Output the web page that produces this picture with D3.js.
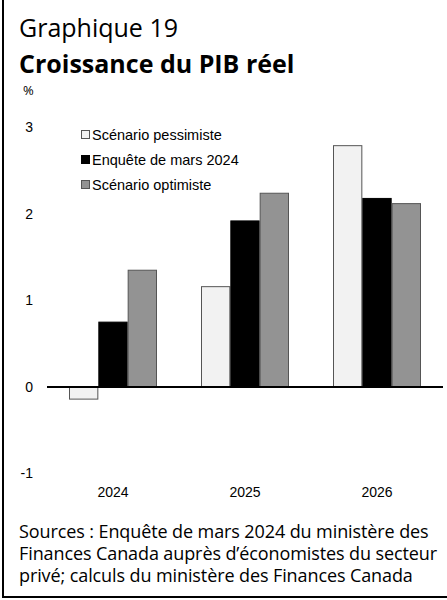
<!DOCTYPE html>
<html>
<head>
<meta charset="utf-8">
<script src="https://cdn.jsdelivr.net/npm/d3@7"></script>
<style>
  html, body { margin: 0; padding: 0; background: #fff; }
  svg { display: block; }
</style>
</head>
<body>
<script>
const years = ["2024", "2025", "2026"];
const seriesNames = ["Scénario pessimiste", "Enquête de mars 2024", "Scénario optimiste"];
const pessimiste = [-0.14, 1.16, 2.79];
const enquete = [0.75, 1.92, 2.18];
const optimiste = [1.35, 2.24, 2.12];
const yTicks = [-1, 0, 1, 2, 3];
const sourceLines = [
  "Sources : Enquête de mars 2024 du ministère des",
  "Finances Canada auprès d’économistes du secteur",
  "privé; calculs du ministère des Finances Canada"
];

const W = 447, H = 600;
const fills = ["#f2f2f2", "#000000", "#939393"];
const strokes = ["#555555", "#000000", "#555555"];
const values = [pessimiste, enquete, optimiste];

const svg = d3.select("body").append("svg").attr("width", W).attr("height", H);

// frame
svg.append("line").attr("x1", 3).attr("x2", 3).attr("y1", 0).attr("y2", 598)
  .attr("stroke", "#000").attr("stroke-width", 2);
svg.append("line").attr("x1", 2).attr("x2", W).attr("y1", 597).attr("y2", 597)
  .attr("stroke", "#000").attr("stroke-width", 2);

const titleFont = "'Open Sans', 'Noto Sans', sans-serif";
const arial = "'Liberation Sans', Arial, sans-serif";

svg.append("text").attr("x", 19).attr("y", 37).text("Graphique 19")
  .attr("font-family", titleFont).attr("font-size", 25).attr("fill", "#000");
svg.append("text").attr("x", 19).attr("y", 72.5).text("Croissance du PIB réel")
  .attr("font-family", titleFont).attr("font-weight", "bold").attr("font-size", 25).attr("fill", "#000");
svg.append("text").attr("x", 23).attr("y", 95).text("%")
  .attr("font-family", titleFont).attr("font-size", 13).attr("fill", "#000");

const x0 = d3.scaleBand().domain(years).range([47, 443]).paddingInner(1/3).paddingOuter(1/6);
const x1 = d3.scaleBand().domain(d3.range(3)).range([0, x0.bandwidth()]);
const y = d3.scaleLinear().domain([-1, 3]).range([473.5, 127.5]);

// y tick labels
svg.append("g").selectAll("text").data(yTicks).join("text")
  .attr("x", 33).attr("y", d => y(d)).attr("dy", "0.35em")
  .attr("text-anchor", "end")
  .attr("font-family", arial).attr("font-size", 14).attr("fill", "#000")
  .text(d => d);

// bars
const g = svg.append("g");
years.forEach((yr, i) => {
  values.forEach((vals, s) => {
    const v = vals[i];
    g.append("rect")
      .attr("x", x0(yr) + x1(s) + 0.5)
      .attr("y", y(Math.max(0, v)))
      .attr("width", x1.bandwidth() - 1)
      .attr("height", Math.abs(y(v) - y(0)))
      .attr("fill", fills[s])
      .attr("stroke", strokes[s])
      .attr("stroke-width", 1);
  });
});

// zero line
svg.append("line").attr("x1", 47).attr("x2", 443).attr("y1", y(0)).attr("y2", y(0))
  .attr("stroke", "#000").attr("stroke-width", 2);

// x labels
svg.append("g").selectAll("text").data(years).join("text")
  .attr("x", d => x0(d) + x0.bandwidth() / 2).attr("y", 497)
  .attr("text-anchor", "middle")
  .attr("font-family", arial).attr("font-size", 14).attr("fill", "#000")
  .text(d => d);

// legend
const leg = svg.append("g");
seriesNames.forEach((name, s) => {
  const cy = 135 + s * 25;
  leg.append("rect").attr("x", 81.5).attr("y", cy - 4.5).attr("width", 8).attr("height", 8)
    .attr("fill", fills[s]).attr("stroke", strokes[s]).attr("stroke-width", 1);
  leg.append("text").attr("x", 92).attr("y", cy).attr("dy", "0.35em")
    .attr("font-family", arial).attr("font-size", 14.5).attr("fill", "#000").text(name);
});

// sources
svg.append("g").selectAll("text").data(sourceLines).join("text")
  .attr("x", 19).attr("y", (d, i) => 538 + i * 22)
  .attr("font-family", titleFont).attr("font-size", 18).attr("letter-spacing", -0.1).attr("fill", "#000")
  .text(d => d);
</script>
</body>
</html>
